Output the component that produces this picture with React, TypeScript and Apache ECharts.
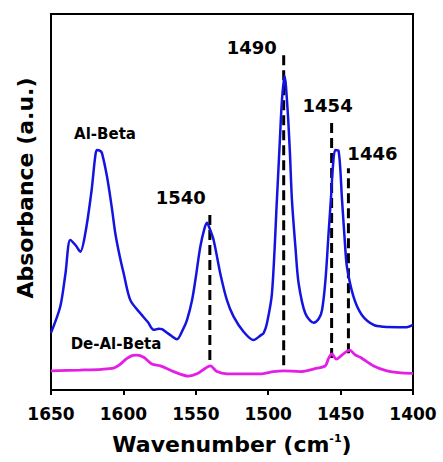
import React, { useEffect, useRef } from "react";
import * as echarts from "echarts";

// Al-Beta spectrum: [wavenumber, absorbance (a.u.)]
const alBeta: [number, number][] = [
  [1650, 15.2], [1643.6, 22.2], [1640, 31], [1636.7, 39.9], [1633, 38.5], [1629.8, 36.8],
  [1626.3, 41.7], [1622, 53], [1619.5, 62], [1618.3, 63.8], [1616, 63.6], [1614.8, 63],
  [1611.3, 56.7], [1608, 48.5], [1605.6, 41.7], [1602.5, 35.5], [1599.8, 31], [1595.2, 23.9],
  [1588.3, 20.4], [1583, 18], [1579.1, 16], [1575.5, 16.3], [1573.4, 16.2], [1569, 15],
  [1563, 13.5], [1559, 16], [1556.1, 18.6], [1552.6, 23.9], [1550, 30], [1546.9, 38.1],
  [1544, 43], [1542.3, 44.5], [1540.5, 43], [1537.7, 39.9], [1533.1, 31], [1528.5, 23.9],
  [1523.9, 19.5], [1517, 15.5], [1510.1, 13.3], [1505, 14.6], [1503.2, 15.1], [1500.9, 17.7],
  [1497.4, 25.7], [1494, 50.5], [1492, 66], [1490.5, 77.1], [1488.7, 83.5], [1486.6, 74.5],
  [1485, 63], [1483.6, 50.5], [1481, 37], [1479, 28.4], [1474.4, 20.4], [1468.6, 17.9],
  [1465, 19], [1462.8, 21.3], [1460.5, 29], [1458.3, 41.7], [1456.5, 52], [1455.3, 59.4],
  [1453.7, 63.8], [1451.4, 63.6], [1449, 50.5], [1447, 39], [1445.6, 32.7], [1441, 24.7],
  [1435.2, 19.9], [1427.2, 17.3], [1420.3, 16.8], [1410, 16.7], [1404.2, 16.7], [1400, 17.3],
];

// De-Al-Beta spectrum
const deAlBeta: [number, number][] = [
  [1650, 5.1], [1630, 5.3], [1615, 5.5], [1606.8, 5.8], [1603, 6.6], [1597.5, 8.4],
  [1593.5, 9.2], [1590.7, 9.3], [1586, 8.7], [1580.3, 6.9], [1574.5, 6.4], [1565.3, 4.9],
  [1555, 3.7], [1549.2, 4.3], [1543.4, 5.8], [1540, 6.4], [1535.4, 4.9], [1528.5, 4.3],
  [1515, 4.3], [1505.5, 4.3], [1496.3, 4.9], [1489.4, 5.1], [1477.9, 4.9], [1466.4, 5.8],
  [1460.6, 6.4], [1458.3, 8.4], [1456, 9.6], [1453, 8.2], [1449, 9.3], [1443.8, 10.6],
  [1439.8, 9.3], [1436.4, 8.7], [1427.2, 6.4], [1418, 5.1], [1410, 4.6], [1400, 4.4],
];

// Marked peaks: label, position of dashed line, top and bottom of dashed line
const peakLabels = ["1540", "1490", "1454", "1446"];
const peakPos = [1540.3, 1489.3, 1456.2, 1444.6];
const peakTop = [47.4, 89.5, 71.8, 59];
const peakBottom = [8, 6.6, 8.5, 9.8];

const xTicks = { min: 1400, max: 1650, interval: 50 };

const FONT = "DejaVu Sans";

export default function App() {
  const ref = useRef<HTMLDivElement>(null);

  useEffect(() => {
    if (!ref.current) return;
    const chart = echarts.init(ref.current, undefined, { renderer: "svg" });

    const labelOffsets: [number, number][] = [
      [-29, -14],
      [-32, -6],
      [-4, -15],
      [24, -15],
    ];

    const dashedSeries = peakPos.map((p, i) => ({
      type: "line",
      data: [
        [p, peakBottom[i]],
        [p, peakTop[i]],
      ],
      showSymbol: false,
      silent: true,
      lineStyle: { color: "#000", width: 3, type: [10, 5] },
      z: 3,
    }));

    chart.setOption({
      animation: false,
      backgroundColor: "#fff",
      grid: {
        left: 51,
        right: 30,
        top: 14,
        bottom: 72,
        show: true,
        borderColor: "#000",
        borderWidth: 2,
        backgroundColor: "transparent",
      },
      xAxis: {
        type: "value",
        inverse: true,
        min: xTicks.min,
        max: xTicks.max,
        interval: xTicks.interval,
        splitLine: { show: false },
        axisLine: { show: true, lineStyle: { color: "#000", width: 2 } },
        axisTick: { show: true, length: 5, lineStyle: { color: "#000", width: 2 } },
        axisLabel: {
          color: "#000",
          fontFamily: FONT,
          fontWeight: "bold",
          fontSize: 17,
          margin: 15,
          formatter: (v: number) => String(v),
        },
        name: "Wavenumber (cm{sup|-1})",
        nameLocation: "middle",
        nameGap: 43,
        nameTextStyle: {
          color: "#000",
          fontFamily: FONT,
          fontWeight: "bold",
          fontSize: 22,
          rich: {
            sup: {
              fontFamily: FONT,
              fontWeight: "bold",
              fontSize: 11,
              color: "#000",
              verticalAlign: "top",
              padding: [0, 0, 12, 0],
            },
          },
        },
      },
      yAxis: {
        type: "value",
        min: 0,
        max: 100,
        splitLine: { show: false },
        axisLine: { show: true, lineStyle: { color: "#000", width: 2 } },
        axisTick: { show: false },
        axisLabel: { show: false },
        name: "Absorbance (a.u.)",
        nameLocation: "middle",
        nameGap: 15,
        nameTextStyle: {
          color: "#000",
          fontFamily: FONT,
          fontWeight: "bold",
          fontSize: 22,
          padding: [0, 0, 0, 28],
        },
      },
      series: [
        {
          name: "Al-Beta",
          type: "line",
          data: alBeta,
          showSymbol: false,
          smooth: 0.3,
          lineStyle: { color: "#1414e0", width: 2.5 },
          z: 4,
        },
        {
          name: "De-Al-Beta",
          type: "line",
          data: deAlBeta,
          showSymbol: false,
          smooth: 0.3,
          lineStyle: { color: "#e41ee4", width: 2.8 },
          z: 4,
        },
        ...dashedSeries,
        {
          type: "scatter",
          symbolSize: 0,
          silent: true,
          itemStyle: { opacity: 1 },
          data: peakPos.map((p, i) => ({
            value: [p, peakTop[i]],
            label: {
              show: true,
              position: "inside",
              offset: labelOffsets[i],
              formatter: peakLabels[i],
              color: "#000",
              fontFamily: FONT,
              fontWeight: "bold",
              fontSize: 18,
            },
          })),
          z: 5,
        },
      ],
      graphic: [
        {
          type: "text",
          x: 105,
          y: 134,
          style: {
            text: "Al-Beta",
            fill: "#000",
            font: `bold 15px "${FONT}"`,
            align: "center",
            verticalAlign: "middle",
          },
        },
        {
          type: "text",
          x: 116,
          y: 344,
          style: {
            text: "De-Al-Beta",
            fill: "#000",
            font: `bold 15px "${FONT}"`,
            align: "center",
            verticalAlign: "middle",
          },
        },
      ],
    });

    return () => chart.dispose();
  }, []);

  return (
    <div
      ref={ref}
      style={{ position: "fixed", left: 0, top: 0, width: 443, height: 462 }}
    />
  );
}
